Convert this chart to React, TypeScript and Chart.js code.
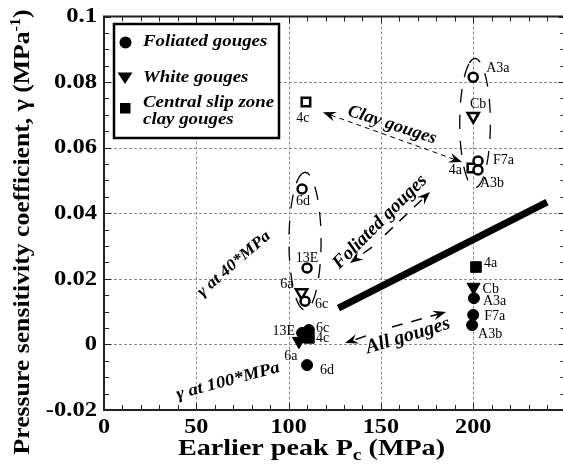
import React, { useEffect, useRef } from 'react';
import { Chart, registerables } from 'chart.js';

Chart.register(...registerables);

// ---------- axis ticks ----------
const xTicks = [0, 50, 100, 150, 200];
const xTickLabels = ['0', '50', '100', '150', '200'];
const yTicks = [-0.02, 0, 0.02, 0.04, 0.06, 0.08, 0.1];
const yTickLabels = ['-0.02', '0', '0.02', '0.04', '0.06', '0.08', '0.1'];

// ---------- data: foliated gouges ----------
const foliatedNames = ['A3a', 'F7a', 'A3b', '6d', '13E', '6c'];
const foliatedPc40 = [200, 202.6, 202.6, 107.3, 110, 108.9];
const foliatedGamma40 = [0.0815, 0.0559, 0.0532, 0.0474, 0.0233, 0.0132];
const foliatedPc100 = [200.4, 200, 199.4, 110, 107.3, 111];
const foliatedGamma100 = [0.0141, 0.009, 0.0059, -0.0063, 0.0035, 0.0044];

// ---------- data: white gouges ----------
const whiteNames = ['Cb', '6a'];
const whitePc40 = [200, 107];
const whiteGamma40 = [0.0696, 0.0158];
const whitePc100 = [200.2, 105.6];
const whiteGamma100 = [0.0175, 0.001];

// ---------- data: central slip zone clay gouges ----------
const clayNames = ['4a', '4c'];
const clayPc40 = [199.3, 109.4];
const clayGamma40 = [0.0538, 0.0739];
const clayPc100 = [201.5, 111];
const clayGamma100 = [0.0236, 0.002];

// ---------- trend line ----------
const trendPc = [127, 240];
const trendGamma = [0.0111, 0.0434];

// ---------- arrows (start -> tip) ----------
const clayArrowPc = [118.6, 193.9];
const clayArrowGamma = [0.0708, 0.0556];
const foliatedUpPc = [152.2, 176.6];
const foliatedUpGamma = [0.0334, 0.0465];
const foliatedDownPc = [145.2, 133.3];
const foliatedDownGamma = [0.0297, 0.0248];
const allUpPc = [156, 185.3];
const allUpGamma = [0.0053, 0.0099];
const allDownPc = [141.9, 130.6];
const allDownGamma = [0.0026, 0.0004];

// ---------- grouping ellipses ----------
const groupCenterPc = [201, 108.9];
const groupCenterGamma = [0.0675, 0.0315];
const groupHalfPc = [8.3, 8.7];
const groupHalfGamma = [0.0197, 0.021];

// ---------- annotation texts ----------
const noteTexts = ['Clay gouges', 'Foliated gouges', 'All gouges', 'γ at 40*MPa', 'γ at 100*MPa'];
const notePc = [156, 149.5, 164.7, 70.4, 67.2];
const noteGamma = [0.0669, 0.0373, 0.0026, 0.0245, -0.0112];

// ---------- label placement (style: px offset, alignment) ----------
const foliated40Offsets: [number, number, string][] = [[13, -9, 'left'], [15, -1, 'left'], [2, 13, 'left'], [1, 12, 'center'], [0, -10, 'center'], [10, 3, 'left']];
const white40Offsets: [number, number, string][] = [[5, -12, 'center'], [-8, -8, 'right']];
const clay40Offsets: [number, number, string][] = [[-10, 2, 'right'], [-3, 16, 'center']];
const foliated100Offsets: [number, number, string][] = [[9, 3, 'left'], [11, 1, 'left'], [6, 9, 'left'], [13, 5, 'left'], [-7, -2, 'right'], [7, -2, 'left']];
const white100Offsets: [number, number, string][] = [[9, 2, 'left'], [-8, 15, 'center']];
const clay100Offsets: [number, number, string][] = [[8, -4, 'left'], [7, 0, 'left']];
const noteStyles: [number, number, number][] = [[18, 18, 1.02], [19, -45, 1.0], [20, -17, 1.0], [16, -41, 1.1], [17, -15, 1.1]];

const SERIF = '"Liberation Serif", "Times New Roman", serif';

type Seg = { t: string; font: string; dy?: number };

function drawText(
  ctx: CanvasRenderingContext2D,
  segs: Seg[],
  x: number,
  y: number,
  opts: { align?: string; rot?: number; sx?: number; width?: number; baseline?: CanvasTextBaseline } = {}
) {
  ctx.save();
  ctx.translate(x, y);
  ctx.rotate(((opts.rot || 0) * Math.PI) / 180);
  let w = 0;
  const ws = segs.map((s) => {
    ctx.font = s.font;
    const m = ctx.measureText(s.t).width;
    w += m;
    return m;
  });
  const s = opts.width ? opts.width / w : opts.sx || 1;
  ctx.scale(s, 1);
  const align = opts.align || 'left';
  let cur = align === 'left' ? 0 : align === 'center' ? -w / 2 : -w;
  ctx.textAlign = 'left';
  ctx.textBaseline = opts.baseline || 'alphabetic';
  ctx.fillStyle = '#000';
  segs.forEach((sg, i) => {
    ctx.font = sg.font;
    ctx.fillText(sg.t, cur, sg.dy || 0);
    cur += ws[i];
  });
  ctx.restore();
}

function arrowHead(ctx: CanvasRenderingContext2D, tx: number, ty: number, ang: number, len: number, hw: number) {
  const c = Math.cos(ang);
  const s = Math.sin(ang);
  ctx.beginPath();
  ctx.moveTo(tx, ty);
  ctx.lineTo(tx - len * c + hw * s, ty - len * s - hw * c);
  ctx.lineTo(tx - 0.65 * len * c, ty - 0.65 * len * s);
  ctx.lineTo(tx - len * c - hw * s, ty - len * s + hw * c);
  ctx.closePath();
  ctx.fill();
}

function drawArrow(
  ctx: CanvasRenderingContext2D,
  x1: number, y1: number, x2: number, y2: number,
  dash: number[], width: number, both: boolean, len: number, hw: number
) {
  const ang = Math.atan2(y2 - y1, x2 - x1);
  const c = Math.cos(ang);
  const s = Math.sin(ang);
  const sx = both ? x1 + 0.65 * len * c : x1;
  const sy = both ? y1 + 0.65 * len * s : y1;
  const ex = x2 - 0.65 * len * c;
  const ey = y2 - 0.65 * len * s;
  ctx.save();
  ctx.strokeStyle = '#000';
  ctx.fillStyle = '#000';
  ctx.lineWidth = width;
  ctx.setLineDash(dash);
  ctx.beginPath();
  ctx.moveTo(sx, sy);
  ctx.lineTo(ex, ey);
  ctx.stroke();
  ctx.setLineDash([]);
  arrowHead(ctx, x2, y2, ang, len, hw);
  if (both) arrowHead(ctx, x1, y1, ang + Math.PI, len, hw);
  ctx.restore();
}

const pairs = (xs: number[], ys: number[]) => xs.map((v, i) => ({ x: v, y: ys[i] }));

const customPlugin = {
  id: 'customDraw',
  beforeDraw(chart: any) {
    const { ctx, width, height } = chart;
    ctx.save();
    ctx.fillStyle = '#fff';
    ctx.fillRect(0, 0, width, height);
    ctx.restore();
  },
  beforeDatasetsDraw(chart: any) {
    const { ctx, chartArea: a } = chart;
    const x = chart.scales.x;
    const y = chart.scales.y;
    // grid lines
    ctx.save();
    ctx.strokeStyle = '#8c8c8c';
    ctx.lineWidth = 1;
    ctx.setLineDash([3, 2]);
    xTicks.forEach((v) => {
      const px = Math.round(x.getPixelForValue(v)) + 0.5;
      if (Math.abs(px - a.left) < 2) return;
      ctx.beginPath();
      ctx.moveTo(px, a.top);
      ctx.lineTo(px, a.bottom);
      ctx.stroke();
    });
    yTicks.forEach((v) => {
      const py = Math.round(y.getPixelForValue(v)) + 0.5;
      if (Math.abs(py - a.top) < 2 || Math.abs(py - a.bottom) < 2) return;
      ctx.beginPath();
      ctx.moveTo(a.left, py);
      ctx.lineTo(a.right, py);
      ctx.stroke();
    });
    ctx.restore();

    // inward ticks
    ctx.save();
    ctx.strokeStyle = '#222';
    ctx.lineWidth = 1;
    for (let v = 0; v <= 250; v += 10) {
      const px = Math.round(x.getPixelForValue(v)) + 0.5;
      const L = v % 50 === 0 ? 7 : 5;
      ctx.beginPath();
      ctx.moveTo(px, a.bottom);
      ctx.lineTo(px, a.bottom - L);
      ctx.moveTo(px, a.top);
      ctx.lineTo(px, a.top + L);
      ctx.stroke();
    }
    for (let k = 0; k <= 24; k++) {
      const v = -0.02 + k * 0.005;
      const py = Math.round(y.getPixelForValue(v)) + 0.5;
      const L = k % 4 === 0 ? 7 : 5;
      ctx.beginPath();
      ctx.moveTo(a.left, py);
      ctx.lineTo(a.left + L, py);
      ctx.moveTo(a.right, py);
      ctx.lineTo(a.right - L, py);
      ctx.stroke();
    }
    ctx.restore();

    // grouping ellipses
    ctx.save();
    ctx.strokeStyle = '#000';
    ctx.lineWidth = 1.3;
    ctx.setLineDash([14, 12]);
    groupCenterPc.forEach((cx, i) => {
      const px = x.getPixelForValue(cx);
      const py = y.getPixelForValue(groupCenterGamma[i]);
      const rx = Math.abs(x.getPixelForValue(cx + groupHalfPc[i]) - px);
      const ry = Math.abs(y.getPixelForValue(groupCenterGamma[i] + groupHalfGamma[i]) - py);
      ctx.beginPath();
      ctx.ellipse(px, py, rx, ry, 0, -Math.PI * 0.62, Math.PI * 1.38);
      ctx.stroke();
    });
    ctx.restore();

    // trend line
    ctx.save();
    ctx.strokeStyle = '#000';
    ctx.lineWidth = 7;
    ctx.lineCap = 'butt';
    ctx.beginPath();
    ctx.moveTo(x.getPixelForValue(trendPc[0]), y.getPixelForValue(trendGamma[0]));
    ctx.lineTo(x.getPixelForValue(trendPc[1]), y.getPixelForValue(trendGamma[1]));
    ctx.stroke();
    ctx.restore();

    // arrows
    const P = (xs: number[], ys: number[], i: number) => [x.getPixelForValue(xs[i]), y.getPixelForValue(ys[i])];
    const arr = (xs: number[], ys: number[], dash: number[], w: number, both: boolean) => {
      const [x1, y1] = P(xs, ys, 0);
      const [x2, y2] = P(xs, ys, 1);
      drawArrow(ctx, x1, y1, x2, y2, dash, w, both, 13, 5);
    };
    arr(clayArrowPc, clayArrowGamma, [5, 4], 1, true);
    arr(foliatedUpPc, foliatedUpGamma, [11, 9], 1.5, false);
    arr(foliatedDownPc, foliatedDownGamma, [11, 9], 1.5, false);
    arr(allUpPc, allUpGamma, [11, 9], 1.5, false);
    arr(allDownPc, allDownGamma, [11, 9], 1.5, false);
  },
  afterDatasetsDraw(chart: any) {
    const { ctx, chartArea: a } = chart;
    const x = chart.scales.x;
    const y = chart.scales.y;

    // frame
    ctx.save();
    ctx.strokeStyle = '#222';
    ctx.lineWidth = 2;
    ctx.strokeRect(a.left, a.top, a.right - a.left, a.bottom - a.top);
    ctx.restore();

    // point labels
    const lblFont = `14px ${SERIF}`;
    const labels = (names: string[], xs: number[], ys: number[], offs: [number, number, string][]) => {
      names.forEach((n, i) => {
        const px = x.getPixelForValue(xs[i]) + offs[i][0];
        const py = y.getPixelForValue(ys[i]) + offs[i][1];
        drawText(ctx, [{ t: n, font: lblFont }], px, py, { align: offs[i][2], baseline: 'middle' });
      });
    };
    labels(foliatedNames, foliatedPc40, foliatedGamma40, foliated40Offsets);
    labels(whiteNames, whitePc40, whiteGamma40, white40Offsets);
    labels(clayNames, clayPc40, clayGamma40, clay40Offsets);
    labels(foliatedNames, foliatedPc100, foliatedGamma100, foliated100Offsets);
    labels(whiteNames, whitePc100, whiteGamma100, white100Offsets);
    labels(clayNames, clayPc100, clayGamma100, clay100Offsets);

    // annotation texts
    noteTexts.forEach((t, i) => {
      const [fs, rot, sx] = noteStyles[i];
      drawText(ctx, [{ t, font: `italic bold ${fs}px ${SERIF}` }], x.getPixelForValue(notePc[i]), y.getPixelForValue(noteGamma[i]), {
        align: 'center',
        baseline: 'middle',
        rot,
        sx,
      });
    });

    // tick labels
    const tickFont = `bold 20px ${SERIF}`;
    yTicks.forEach((v, i) => {
      drawText(ctx, [{ t: yTickLabels[i], font: tickFont }], a.left - 7, y.getPixelForValue(v) + 0.5, {
        align: 'right',
        baseline: 'middle',
        sx: 1.23,
      });
    });
    xTicks.forEach((v, i) => {
      drawText(ctx, [{ t: xTickLabels[i], font: tickFont }], x.getPixelForValue(v), a.bottom + 23, {
        align: 'center',
        sx: 1.21,
      });
    });

    // axis titles
    const tf = `bold 23px ${SERIF}`;
    drawText(
      ctx,
      [
        { t: 'Earlier peak P', font: tf },
        { t: 'c', font: `bold 16px ${SERIF}`, dy: 5 },
        { t: ' (MPa)', font: tf },
      ],
      311.5,
      a.bottom + 45,
      { align: 'center', width: 267 }
    );
    const yf = `bold 24px ${SERIF}`;
    drawText(
      ctx,
      [
        { t: 'Pressure sensitivity coefficient, γ (MPa', font: yf },
        { t: '-1', font: `bold 15px ${SERIF}`, dy: -9 },
        { t: ')', font: yf },
      ],
      29,
      232,
      { align: 'center', rot: -90, width: 445 }
    );

    // legend
    const lx = a.left + 10;
    const ly = a.top + 7.5;
    ctx.save();
    ctx.fillStyle = '#fff';
    ctx.strokeStyle = '#000';
    ctx.lineWidth = 2.5;
    ctx.fillRect(lx, ly, 165, 114);
    ctx.strokeRect(lx, ly, 165, 114);
    ctx.fillStyle = '#000';
    ctx.beginPath();
    ctx.arc(lx + 11.5, ly + 18.5, 6, 0, Math.PI * 2);
    ctx.fill();
    ctx.beginPath();
    ctx.moveTo(lx + 3.5, ly + 48.5);
    ctx.lineTo(lx + 18.5, ly + 48.5);
    ctx.lineTo(lx + 11, ly + 60);
    ctx.closePath();
    ctx.fill();
    ctx.fillRect(lx + 6, ly + 79, 10.5, 10.5);
    ctx.restore();
    const lf = `italic bold 16px ${SERIF}`;
    const lsx = 1.18;
    drawText(ctx, [{ t: 'Foliated gouges', font: lf }], lx + 29, ly + 22, { sx: lsx });
    drawText(ctx, [{ t: 'White gouges', font: lf }], lx + 29, ly + 57.5, { sx: lsx });
    drawText(ctx, [{ t: 'Central slip zone', font: lf }], lx + 29, ly + 82.5, { sx: lsx });
    drawText(ctx, [{ t: 'clay gouges', font: lf }], lx + 29, ly + 99.5, { sx: lsx });
  },
};

export default function App() {
  const ref = useRef<HTMLCanvasElement | null>(null);
  useEffect(() => {
    if (!ref.current) return;
    const open = { backgroundColor: '#fff', borderColor: '#000', borderWidth: 2.5 };
    const filled = { backgroundColor: '#000', borderColor: '#000', borderWidth: 1 };
    const chart = new Chart(ref.current, {
      type: 'scatter',
      data: {
        datasets: [
          { label: 'Foliated gouges, γ at 40 MPa', data: pairs(foliatedPc40, foliatedGamma40), pointStyle: 'circle', pointRadius: 4.5, ...open },
          { label: 'White gouges, γ at 40 MPa', data: pairs(whitePc40, whiteGamma40), pointStyle: 'triangle', pointRotation: 180, pointRadius: 6.5, ...open },
          { label: 'Clay gouges, γ at 40 MPa', data: pairs(clayPc40, clayGamma40), pointStyle: 'rect', pointRadius: 6, ...open },
          { label: 'Foliated gouges, γ at 100 MPa', data: pairs(foliatedPc100, foliatedGamma100), pointStyle: 'circle', pointRadius: 5.5, ...filled },
          { label: 'White gouges, γ at 100 MPa', data: pairs(whitePc100, whiteGamma100), pointStyle: 'triangle', pointRotation: 180, pointRadius: 7.5, ...filled },
          { label: 'Clay gouges, γ at 100 MPa', data: pairs(clayPc100, clayGamma100), pointStyle: 'rect', pointRadius: 7.5, ...filled },
        ] as any,
      },
      options: {
        responsive: false,
        animation: false,
        devicePixelRatio: 1,
        events: [],
        layout: { padding: { left: 104, right: 14.5, top: 16.5, bottom: 58 } },
        scales: {
          x: { type: 'linear', min: 0, max: 250, display: false },
          y: { type: 'linear', min: -0.02, max: 0.1, display: false },
        },
        plugins: { legend: { display: false }, tooltip: { enabled: false } },
      } as any,
      plugins: [customPlugin],
    });
    return () => chart.destroy();
  }, []);
  return (
    <div style={{ position: 'fixed', left: 0, top: 0, width: 563, height: 468, overflow: 'hidden', background: '#fff' }}>
      <canvas ref={ref} width={580} height={468} style={{ display: 'block', width: 580, height: 468 }} />
    </div>
  );
}
